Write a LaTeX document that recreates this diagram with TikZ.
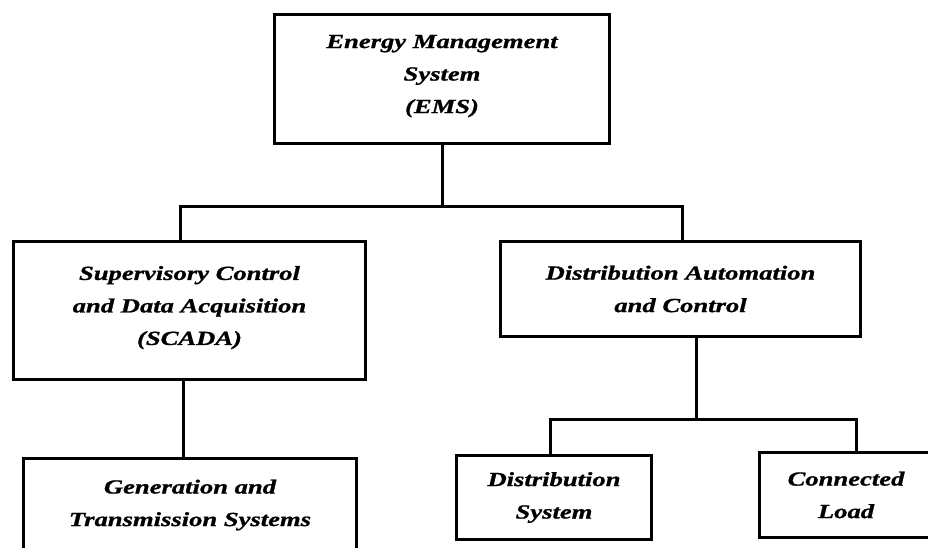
\documentclass[tikz,border=0pt]{standalone}
\usepackage{fontspec}
\setmainfont{Liberation Serif}[FakeStretch=1.33,FakeBold=1]
\usetikzlibrary{calc}
\begin{document}
\begin{tikzpicture}[x=1pt,y=-1pt,
  box/.style={draw=black, line width=3pt, fill=white, align=center, inner sep=0pt,
    font=\fontsize{20}{32.5}\selectfont\bfseries\itshape},
  link/.style={draw=black, line width=3pt}]
\useasboundingbox (0,0) rectangle (928,548);
\clip (0,0) rectangle (928,548);
\fill[white] (0,0) rectangle (928,548);
\node[box, minimum width=335, minimum height=129] (ems) at (442,79)
  {Energy Management\\System\\(EMS)\rule[-10pt]{0pt}{0pt}};
\node[box, minimum width=352, minimum height=138] (scada) at (189.5,310.5)
  {Supervisory Control\\and Data Acquisition\\(SCADA)\rule[-10pt]{0pt}{0pt}};
\node[box, minimum width=360, minimum height=95] (da) at (680.5,289)
  {Distribution Automation\\and Control};
\node[box, minimum width=333, minimum height=93.5] (gen) at (190,505)
  {Generation and\\Transmission Systems};
\node[box, minimum width=195, minimum height=84] (dist) at (554,497.5)
  {Distribution\\System};
\node[box, minimum width=173, minimum height=85] (cl) at (846,495)
  {Connected\\Load};
\coordinate (bus1) at (ems.south |- 0,206);
\coordinate (bus2) at (696,419);
\draw[link] (ems.south) -- (bus1);
\draw[link] (scada.north -| 180,0) |- (bus1) -| (da.north -| 682,0);
\draw[link] (scada.south -| 183,0) -- (gen.north -| 183,0);
\draw[link] (da.south -| bus2) -- (bus2);
\draw[link] (dist.north -| 550,0) |- (bus2) -| (cl.north -| 856,0);
\end{tikzpicture}
\end{document}
